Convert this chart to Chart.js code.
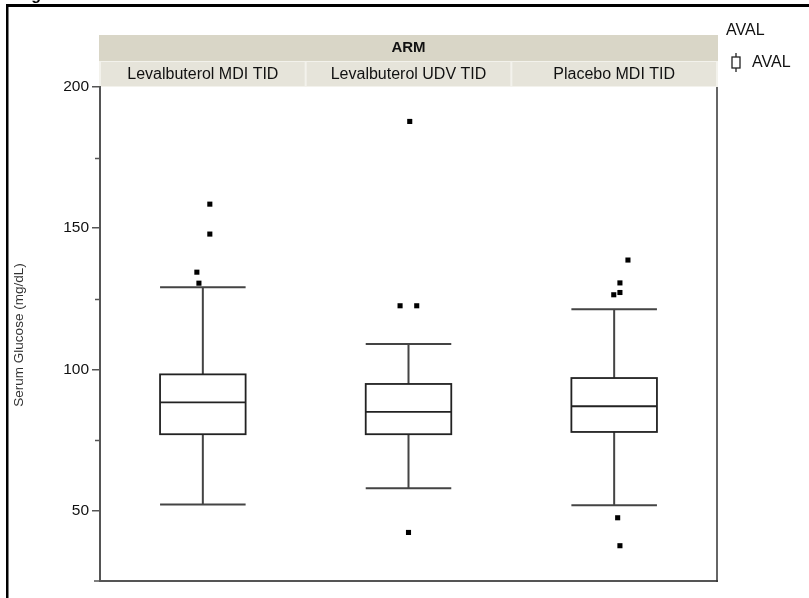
<!DOCTYPE html>
<html>
<head>
<meta charset="utf-8">
<script src="https://cdn.jsdelivr.net/npm/chart.js@4/dist/chart.umd.min.js"></script>
<style>
  html, body { margin: 0; padding: 0; background: #fff; }
  #wrap { width: 809px; height: 598px; }
</style>
</head>
<body>
<div id="wrap"><canvas id="chart" width="809" height="598"></canvas></div>
<script>
// Treatment arms (one panel column each)
const categories = ['Levalbuterol MDI TID', 'Levalbuterol UDV TID', 'Placebo MDI TID'];
const panelVar = 'ARM';
const legendTitle = 'AVAL';
const legendItem = 'AVAL';
const yTitle = 'Serum Glucose (mg/dL)';

// Box summary statistics per arm (mg/dL)
const whiskerLow  = [52.1, 57.9, 51.8];
const q1          = [77.0, 77.0, 77.8];
const median      = [88.3, 84.9, 86.9];
const q3          = [98.2, 94.8, 96.9];
const whiskerHigh = [129.1, 109.0, 121.3];

// Outlying observations: arm index, value, horizontal jitter (in category units)
const outlierArm    = [0, 0, 0, 0, 1, 1, 1, 1, 2, 2, 2, 2, 2, 2];
const outlierValue  = [158.5, 147.9, 134.4, 130.5, 187.8, 122.5, 122.5, 42.2, 138.7, 130.6, 127.2, 126.4, 47.4, 37.5];
const outlierJitter = [0.034, 0.034, -0.029, -0.019, 0.006, -0.041, 0.040, 0, 0.067, 0.028, 0.028, -0.002, 0.017, 0.028];

// Y axis range and labelled tick spacing
const yMin = 25, yMax = 200, yMinorStep = 25, yLabelStep = 50;

const FONT = '"Liberation Sans", Arial, sans-serif';
const BOX_HALF = 0.208;

const boxPlugin = {
  id: 'boxplot',
  beforeDraw(chart) {
    const { ctx, chartArea: a, scales: { x } } = chart;
    ctx.save();
    ctx.fillStyle = '#fff';
    ctx.fillRect(0, 0, chart.width, chart.height);

    // page frame
    ctx.fillStyle = '#000';
    ctx.fillRect(6, 4, chart.width - 6, 3);
    ctx.fillRect(6, 4, 2.5, chart.height - 4);
    ctx.font = 'bold 16px ' + FONT;
    ctx.textAlign = 'left';
    ctx.textBaseline = 'alphabetic';
    ctx.fillText('Figure', 17, 0);

    // panel header: variable strip and one cell per arm
    const left = x.getPixelForValue(-0.5) - 1, right = x.getPixelForValue(2.5) + 1;
    ctx.fillStyle = '#d9d6c7';
    ctx.fillRect(left, a.top - 52, right - left, 26);
    ctx.fillStyle = '#f3f2ec';
    ctx.fillRect(left, a.top - 26, right - left, 26);
    ctx.fillStyle = '#111';
    ctx.textAlign = 'center';
    ctx.textBaseline = 'middle';
    ctx.font = 'bold 15px ' + FONT;
    ctx.fillText(panelVar, (left + right) / 2, a.top - 39);
    categories.forEach((c, i) => {
      const x0 = x.getPixelForValue(i - 0.5), x1 = x.getPixelForValue(i + 0.5);
      ctx.fillStyle = '#e6e4da';
      ctx.fillRect(x0 + 1, a.top - 25, x1 - x0 - 2, 24);
      ctx.fillStyle = '#111';
      ctx.font = '16px ' + FONT;
      ctx.fillText(c, (x0 + x1) / 2, a.top - 12);
    });
    ctx.restore();
  },
  afterDatasetsDraw(chart) {
    const { ctx, scales: { x, y } } = chart;
    ctx.save();
    categories.forEach((c, i) => {
      const cx = x.getPixelForValue(i);
      const hw = x.getPixelForValue(i + BOX_HALF) - cx;
      const yq1 = y.getPixelForValue(q1[i]), yq3 = y.getPixelForValue(q3[i]);
      const ymed = y.getPixelForValue(median[i]);
      const ylo = y.getPixelForValue(whiskerLow[i]), yhi = y.getPixelForValue(whiskerHigh[i]);
      // whiskers and caps
      ctx.strokeStyle = '#444';
      ctx.lineWidth = 2;
      ctx.beginPath();
      ctx.moveTo(cx, yq3); ctx.lineTo(cx, yhi);
      ctx.moveTo(cx, yq1); ctx.lineTo(cx, ylo);
      ctx.moveTo(cx - hw, yhi); ctx.lineTo(cx + hw, yhi);
      ctx.moveTo(cx - hw, ylo); ctx.lineTo(cx + hw, ylo);
      ctx.stroke();
      // box and median
      ctx.strokeStyle = '#222';
      ctx.lineWidth = 1.8;
      ctx.strokeRect(cx - hw, yq3, 2 * hw, yq1 - yq3);
      ctx.beginPath();
      ctx.moveTo(cx - hw, ymed); ctx.lineTo(cx + hw, ymed);
      ctx.stroke();
    });
    ctx.restore();
  },
  afterDraw(chart) {
    const { ctx, chartArea: a, scales: { y } } = chart;
    ctx.save();
    // minor ticks
    ctx.strokeStyle = '#555';
    ctx.lineWidth = 1.5;
    ctx.beginPath();
    y.ticks.forEach(t => {
      if (t.value % yLabelStep !== 0 && t.value > yMin) {
        const py = Math.round(y.getPixelForValue(t.value)) + 0.5;
        ctx.moveTo(a.left - 5, py); ctx.lineTo(a.left, py);
      }
    });
    // axis baseline stub
    ctx.moveTo(a.left - 6, a.bottom); ctx.lineTo(a.left, a.bottom);
    ctx.stroke();
    // right panel edge
    ctx.strokeStyle = '#333';
    ctx.lineWidth = 1.5;
    ctx.beginPath();
    ctx.moveTo(a.right, a.top); ctx.lineTo(a.right, a.bottom + 1);
    ctx.stroke();

    // y axis title
    ctx.save();
    ctx.translate(19, (a.top + a.bottom) / 2 + 1);
    ctx.rotate(-Math.PI / 2);
    ctx.fillStyle = '#333';
    ctx.font = '13.5px ' + FONT;
    ctx.textAlign = 'center';
    ctx.textBaseline = 'middle';
    ctx.fillText(yTitle, 0, 0);
    ctx.restore();

    // legend
    const lx = a.right + 9;
    ctx.fillStyle = '#111';
    ctx.textAlign = 'left';
    ctx.textBaseline = 'middle';
    ctx.font = '16px ' + FONT;
    ctx.fillText(legendTitle, lx, a.top - 56);
    ctx.strokeStyle = '#222';
    ctx.lineWidth = 1.3;
    const ix = lx + 10, iy = a.top - 24;
    ctx.strokeRect(ix - 4, iy - 6, 8, 11);
    ctx.beginPath();
    ctx.moveTo(ix, iy - 10); ctx.lineTo(ix, iy - 6);
    ctx.moveTo(ix, iy + 5); ctx.lineTo(ix, iy + 9);
    ctx.stroke();
    ctx.fillText(legendItem, lx + 26, iy);
    ctx.restore();
  }
};

const outlierPoints = outlierValue.map((v, k) => ({ x: outlierArm[k] + outlierJitter[k], y: v }));

new Chart(document.getElementById('chart'), {
  type: 'scatter',
  data: {
    datasets: [{
      label: legendItem,
      data: outlierPoints,
      pointStyle: 'rect',
      pointRadius: 3.6,
      pointBorderWidth: 0,
      backgroundColor: '#000',
      borderColor: '#000'
    }]
  },
  options: {
    responsive: false,
    animation: false,
    devicePixelRatio: 1,
    events: [],
    layout: { padding: { left: 8, right: 92, top: 87, bottom: 17 } },
    plugins: { legend: { display: false }, tooltip: { enabled: false }, title: { display: false } },
    scales: {
      x: {
        type: 'linear', min: -0.5, max: 2.5,
        ticks: { display: false },
        grid: { display: false, drawTicks: false },
        border: { display: true, color: '#555', width: 2 },
        afterFit: s => { s.height = 0; }
      },
      y: {
        min: yMin, max: yMax,
        ticks: {
          stepSize: yMinorStep, autoSkip: false,
          callback: v => (v % yLabelStep === 0 ? String(v) : ''),
          color: '#111', font: { family: FONT, size: 15.5 }, padding: 3
        },
        grid: {
          drawOnChartArea: false, drawTicks: true, tickLength: 8, lineWidth: 1.5,
          color: c => (c.tick && c.tick.value % yLabelStep === 0 ? '#555' : 'rgba(0,0,0,0)')
        },
        border: { display: true, color: '#555', width: 2 },
        afterFit: s => { s.width = 92; }
      }
    }
  },
  plugins: [boxPlugin]
});
</script>
</body>
</html>
